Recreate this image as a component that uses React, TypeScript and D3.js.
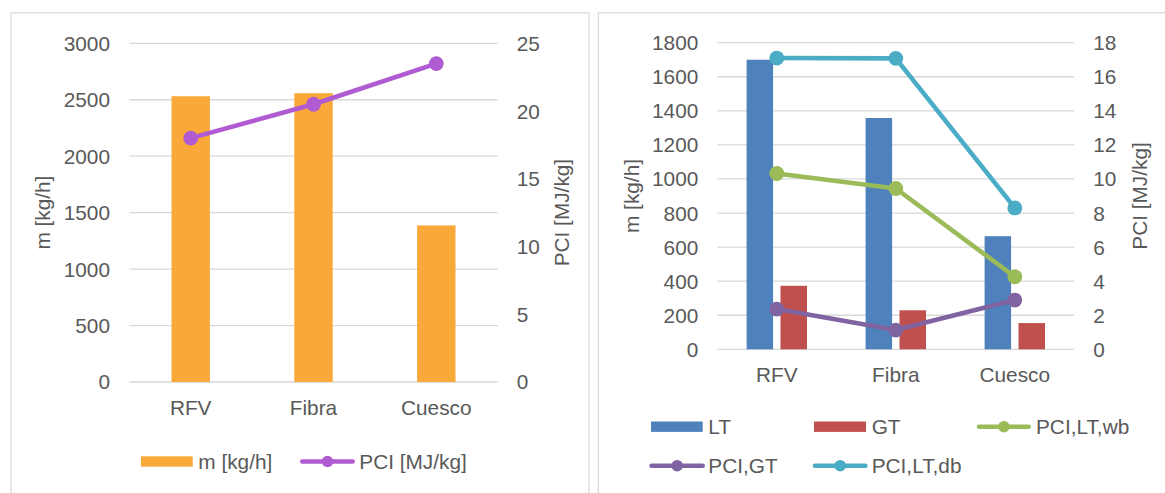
import React from "react";
import * as d3 from "d3";

const categories = ["RFV", "Fibra", "Cuesco"];
// Left chart
const massLeft = [2531, 2558, 1387];
const pciLeft = [18.0, 20.5, 23.5];
const leftTicksM = [0, 500, 1000, 1500, 2000, 2500, 3000];
const leftTicksP = [0, 5, 10, 15, 20, 25];
// Right chart
const ltMass = [1700, 1358, 664];
const gtMass = [373, 229, 154];
const pciLTwb = [10.32, 9.44, 4.26];
const pciGT = [2.36, 1.13, 2.89];
const pciLTdb = [17.1, 17.08, 8.3];
const rightTicksM = [0, 200, 400, 600, 800, 1000, 1200, 1400, 1600, 1800];
const rightTicksP = [0, 2, 4, 6, 8, 10, 12, 14, 16, 18];

const FONT = "'Liberation Sans', Arial, sans-serif";
const TXT = "#595959";
const GRID = "#D9D9D9";
const FS = 20.8;
const LW = 4.6;

function LineSeries({ xs, vals, y, color }: { xs: number[]; vals: number[]; y: d3.ScaleLinear<number, number>; color: string }) {
  const pts: [number, number][] = vals.map((v, i) => [xs[i], y(v)]);
  const line = d3.line();
  return (
    <g>
      <path d={line(pts) || ""} fill="none" stroke={color} strokeWidth={LW} strokeLinejoin="round" strokeLinecap="round" />
      {pts.map((p, i) => (
        <circle key={i} cx={p[0]} cy={p[1]} r={7.4} fill={color} />
      ))}
    </g>
  );
}

function LegendLine({ x1, x2, y, color, label, tx }: { x1: number; x2: number; y: number; color: string; label: string; tx: number }) {
  return (
    <g>
      <line x1={x1 + LW / 2} x2={x2 - LW / 2} y1={y} y2={y} stroke={color} strokeWidth={LW} strokeLinecap="round" />
      <circle cx={(x1 + x2) / 2} cy={y} r={5.8} fill={color} />
      <text x={tx} y={y} dy="0.36em" fontSize={FS} fill={TXT} fontFamily={FONT}>{label}</text>
    </g>
  );
}

function LegendRect({ x, w, y, color, label, tx }: { x: number; w: number; y: number; color: string; label: string; tx: number }) {
  return (
    <g>
      <rect x={x} y={y - 5.2} width={w} height={10.4} fill={color} />
      <text x={tx} y={y} dy="0.36em" fontSize={FS} fill={TXT} fontFamily={FONT}>{label}</text>
    </g>
  );
}

function LeftChart() {
  const X0 = 129.3, X1 = 497.7;
  const x = d3.scaleBand().domain(categories).range([X0, X1]).padding(0);
  const yM = d3.scaleLinear().domain([0, 3000]).range([382, 43.3]);
  const yP = d3.scaleLinear().domain([0, 25]).range([382, 43.3]);
  const cx = categories.map((c) => (x(c) as number) + x.bandwidth() / 2);
  const bw = x.bandwidth() * 0.3127;
  return (
    <g>
      <rect x={11} y={12.8} width={578} height={500} fill="#fff" stroke={GRID} strokeWidth={1.2} />
      {leftTicksM.map((t) => (
        <g key={t}>
          <line x1={X0} x2={X1} y1={yM(t)} y2={yM(t)} stroke={GRID} strokeWidth={1.3} />
          <text x={110} y={yM(t)} dy="0.36em" textAnchor="end" fontSize={FS} fill={TXT} fontFamily={FONT}>{t}</text>
        </g>
      ))}
      {leftTicksP.map((t) => (
        <text key={t} x={516.7} y={yP(t)} dy="0.36em" fontSize={FS} fill={TXT} fontFamily={FONT}>{t}</text>
      ))}
      {massLeft.map((v, i) => (
        <rect key={i} x={cx[i] - bw / 2} y={yM(v)} width={bw} height={yM(0) - yM(v)} fill="#F9A83A" />
      ))}
      <LineSeries xs={cx} vals={pciLeft} y={yP} color="#B05BD1" />
      {categories.map((c, i) => (
        <text key={c} x={cx[i]} y={415} textAnchor="middle" fontSize={FS} fill={TXT} fontFamily={FONT}>{c}</text>
      ))}
      <text transform={`translate(49.5,212.6) rotate(-90)`} textAnchor="middle" fontSize={FS} fill={TXT} fontFamily={FONT}>m [kg/h]</text>
      <text transform={`translate(568.5,212.6) rotate(-90)`} textAnchor="middle" fontSize={FS} fill={TXT} fontFamily={FONT}>PCI [MJ/kg]</text>
      <LegendRect x={141} w={51.7} y={461.5} color="#F9A83A" label="m [kg/h]" tx={198.3} />
      <LegendLine x1={300} x2={355} y={461.5} color="#B05BD1" label="PCI [MJ/kg]" tx={359.3} />
    </g>
  );
}

function RightChart() {
  const X0 = 717.3, X1 = 1074.3;
  const x = d3.scaleBand().domain(categories).range([X0, X1]).padding(0);
  const inner = d3.scaleBand().domain(["LT", "GT"]).range([-30.2, 30.2]).paddingInner(0.218);
  const yM = d3.scaleLinear().domain([0, 1800]).range([349.3, 42.7]);
  const yP = d3.scaleLinear().domain([0, 18]).range([349.3, 42.7]);
  const cx = categories.map((c) => (x(c) as number) + x.bandwidth() / 2);
  return (
    <g>
      <rect x={598.3} y={12.7} width={600} height={500} fill="#fff" stroke={GRID} strokeWidth={1.2} />
      {rightTicksM.map((t) => (
        <g key={t}>
          <line x1={X0} x2={X1} y1={yM(t)} y2={yM(t)} stroke={GRID} strokeWidth={1.3} />
          <text x={698.3} y={yM(t)} dy="0.36em" textAnchor="end" fontSize={FS} fill={TXT} fontFamily={FONT}>{t}</text>
        </g>
      ))}
      {rightTicksP.map((t) => (
        <text key={t} x={1093.3} y={yP(t)} dy="0.36em" fontSize={FS} fill={TXT} fontFamily={FONT}>{t}</text>
      ))}
      {ltMass.map((v, i) => (
        <rect key={"lt" + i} x={cx[i] + (inner("LT") as number)} y={yM(v)} width={inner.bandwidth()} height={yM(0) - yM(v)} fill="#4F81BD" />
      ))}
      {gtMass.map((v, i) => (
        <rect key={"gt" + i} x={cx[i] + (inner("GT") as number)} y={yM(v)} width={inner.bandwidth()} height={yM(0) - yM(v)} fill="#C0504D" />
      ))}
      <LineSeries xs={cx} vals={pciLTwb} y={yP} color="#9BBB59" />
      <LineSeries xs={cx} vals={pciGT} y={yP} color="#8064A2" />
      <LineSeries xs={cx} vals={pciLTdb} y={yP} color="#4BACC6" />
      {categories.map((c, i) => (
        <text key={c} x={cx[i]} y={381.7} textAnchor="middle" fontSize={FS} fill={TXT} fontFamily={FONT}>{c}</text>
      ))}
      <text transform={`translate(639,196) rotate(-90)`} textAnchor="middle" fontSize={FS} fill={TXT} fontFamily={FONT}>m [kg/h]</text>
      <text transform={`translate(1146.5,196) rotate(-90)`} textAnchor="middle" fontSize={FS} fill={TXT} fontFamily={FONT}>PCI [MJ/kg]</text>
      <LegendRect x={651} w={51.7} y={426.7} color="#4F81BD" label="LT" tx={708.3} />
      <LegendRect x={814} w={52} y={426.7} color="#C0504D" label="GT" tx={871.7} />
      <LegendLine x1={976.7} x2={1031} y={426.7} color="#9BBB59" label="PCI,LT,wb" tx={1036} />
      <LegendLine x1={649.3} x2={705} y={465.7} color="#8064A2" label="PCI,GT" tx={708.3} />
      <LegendLine x1={812.7} x2={867.7} y={465.7} color="#4BACC6" label="PCI,LT,db" tx={871.7} />
    </g>
  );
}

export default function App() {
  return (
    <svg width={1165} height={493} style={{ position: "absolute", left: 0, top: 0, background: "#fff" }}>
      <rect x={0} y={0} width={1165} height={493} fill="#fff" />
      <LeftChart />
      <RightChart />
    </svg>
  );
}
